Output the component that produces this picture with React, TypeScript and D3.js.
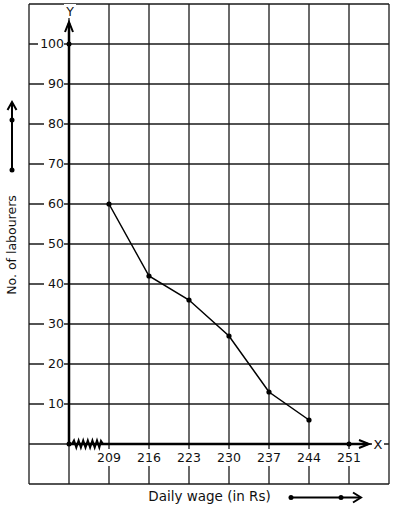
import * as d3 from "d3";
import * as React from "react";

const wages = [209, 216, 223, 230, 237, 244];
const labourers = [60, 42, 36, 27, 13, 6];
const xTicks = [209, 216, 223, 230, 237, 244, 251];
const yTicks = [10, 20, 30, 40, 50, 60, 70, 80, 90, 100];

const W = 394;
const H = 510;

export default function App() {
  const x = d3.scaleLinear().domain([209, 251]).range([109, 349]);
  const y = d3.scaleLinear().domain([0, 100]).range([444, 44]);

  const gridX = d3.range(195, 259, 7);
  const gridY = d3.range(-10, 111, 10);
  const ox = x(202);
  const oy = y(0);
  const font = "DejaVu Sans, sans-serif";

  const line = d3
    .line<number>()
    .x((_, i) => x(wages[i]))
    .y((d) => y(d));

  // zigzag (axis break) near origin
  const zz: [number, number][] = [[ox + 3, oy]];
  for (let i = 0; i < 6; i++) {
    const s = ox + 5 + i * 4.6;
    zz.push([s, oy - 3.5], [s + 2.3, oy + 3.5]);
  }
  zz.push([ox + 32, oy - 3], [ox + 34, oy]);

  return (
    <svg
      width={W}
      height={H}
      style={{ position: "absolute", left: 0, top: 0, background: "#fff" }}
      fontFamily={font}
    >
      <rect width={W} height={H} fill="#fff" />
      <g stroke="#1a1a1a" strokeWidth={1.3}>
        {gridX.map((v) => (
          <line key={"gx" + v} x1={x(v)} x2={x(v)} y1={y(110)} y2={y(-10)} />
        ))}
        {gridY.map((v) => (
          <line key={"gy" + v} x1={x(195)} x2={x(258)} y1={y(v)} y2={y(v)} />
        ))}
      </g>

      {/* y tick labels */}
      {yTicks.map((v) => (
        <g key={"yt" + v}>
          <rect x={v === 100 ? 38 : 44} y={y(v) - 7} width={v === 100 ? 26 : 20} height={14} fill="#fff" />
          <text x={64} y={y(v)} dy="0.35em" textAnchor="end" fontSize={12.5} fill="#111">
            {v}
          </text>
        </g>
      ))}

      {/* x tick labels */}
      {xTicks.map((v) => (
        <g key={"xt" + v}>
          <rect x={x(v) - 13} y={449} width={26} height={17} fill="#fff" />
          <text x={x(v)} y={462} textAnchor="middle" fontSize={12.5} fill="#111">
            {v}
          </text>
        </g>
      ))}

      {/* axes */}
      <g stroke="#000" strokeWidth={2.5} fill="none">
        <line x1={ox} x2={ox} y1={oy} y2={23} />
        <polyline points={`${ox - 4},${32} ${ox},${22} ${ox + 4},${32}`} strokeWidth={2} />
        <line x1={ox} x2={368} y1={oy} y2={oy} />
        <polyline points={`${359},${440} ${369},${oy} ${359},${448}`} strokeWidth={2} />
        <polyline points={zz.map((p) => p.join(",")).join(" ")} strokeWidth={2} />
      </g>

      <rect x={64} y={4} width={12} height={14} fill="#fff" />
      <text x={ox + 1} y={16} textAnchor="middle" fontSize={12.5} fill="#111">
        Y
      </text>
      <rect x={372} y={437} width={12} height={14} fill="#fff" />
      <text x={378} y={oy} dy="0.35em" textAnchor="middle" fontSize={13} fill="#111">
        X
      </text>

      {/* axis dots */}
      <g fill="#000">
        <circle cx={ox} cy={oy} r={2.5} />
        <circle cx={x(251)} cy={oy} r={2.5} />
        <circle cx={ox} cy={y(100)} r={2.5} />
      </g>

      {/* data */}
      <path d={line(labourers) ?? ""} fill="none" stroke="#000" strokeWidth={1.5} />
      {labourers.map((v, i) => (
        <circle key={"p" + i} cx={x(wages[i])} cy={y(v)} r={2.6} fill="#000" />
      ))}

      {/* axis titles */}
      <text x={209.5} y={501} textAnchor="middle" fontSize={13.5} fill="#111">
        Daily wage (in Rs)
      </text>
      <text
        transform={`translate(16,245) rotate(-90)`}
        textAnchor="middle"
        fontSize={12.5}
        fill="#111"
      >
        No. of labourers
      </text>

      {/* direction arrows */}
      <g stroke="#000" strokeWidth={2} fill="none">
        <line x1={291} x2={360} y1={497.5} y2={497.5} />
        <polyline points="353,492.5 361,497.5 353,502.5" />
        <line x1={12} x2={12} y1={170} y2={103} />
        <polyline points="7.5,110 12,102 16.5,110" />
      </g>
      <g fill="#000">
        <circle cx={291} cy={497.5} r={2.5} />
        <circle cx={341} cy={497.5} r={2.5} />
        <circle cx={12} cy={120} r={2.5} />
        <circle cx={12} cy={170} r={2.5} />
      </g>
    </svg>
  );
}
